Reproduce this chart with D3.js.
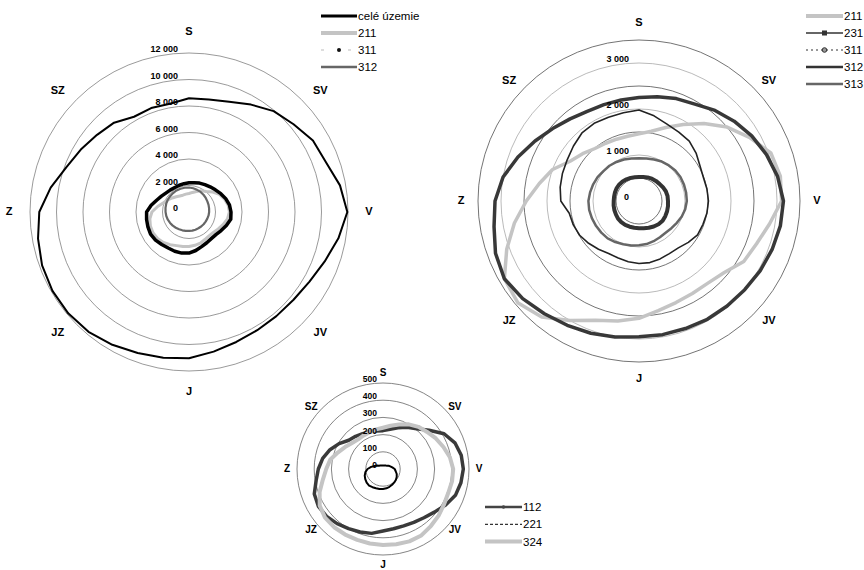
<!DOCTYPE html>
<html>
<head>
<meta charset="utf-8">
<script src="https://cdn.jsdelivr.net/npm/d3@7"></script>
<style>
body { margin: 0; background: #fff; }
text { font-family: "Liberation Sans", Arial, sans-serif; }
</style>
</head>
<body>
<div id="chart"></div>
<script>
//directions in degrees, clockwise from north
const angles = [0,10,20,30,40,50,60,70,80,90,100,110,120,130,140,150,160,170,
                180,190,200,210,220,230,240,250,260,270,280,290,300,310,320,330,340,350];
const dirLabels = ['S','SV','V','JV','J','JZ','Z','SZ'];

//chart A (whole territory)
const ringsA = [2000,4000,6000,8000,10000,12000];
const ticksA = [0,2000,4000,6000,8000,10000,12000];
const celeUzemieA = [8580,8630,8860,9360,9940,10300,10800,11000,11570,11950,11450,10900,10500,10300,10260,10300,10440,10700,
                     11040,11170,11320,11570,11800,11900,11900,11800,11570,11300,10600,9860,9430,9060,8800,8300,8350,8300];
const s211A = [1400,1500,1650,1850,2030,2350,2650,2850,3000,3050,2950,2750,2550,2400,2350,2400,2500,2550,
               2600,2650,2700,2850,3000,3100,3140,3100,3000,2800,2400,2050,1850,1650,1500,1400,1350,1370];
const s311A = [2200,2250,2320,2390,2480,2600,2770,2950,3100,3170,3200,3000,2800,2650,2620,2680,2780,2950,
               3100,3150,3150,3140,3200,3300,3350,3300,3250,3200,2900,2600,2400,2250,2180,2140,2150,2170];
const s312A = [1850,1820,1780,1750,1700,1650,1600,1570,1540,1520,1500,1470,1450,1440,1430,1420,1420,1430,
               1430,1450,1470,1500,1550,1600,1650,1700,1740,1770,1800,1830,1850,1860,1870,1880,1870,1860];

//chart B
const ringsB = [500,1000,1500,2000,2500,3000,3500];
const ticksB = [0,1000,2000,3000];
const s211B = [1460,1540,1700,1920,2200,2500,2770,3050,3120,3100,2880,2720,2630,2420,2330,2320,2350,2420,
               2550,2650,2760,3000,3290,3440,3380,3060,2750,2450,2200,2000,1730,1600,1490,1450,1430,1430];
const s231B = [520,530,545,560,570,580,600,620,630,630,640,650,660,670,660,640,620,600,
               590,590,595,600,600,595,580,570,560,550,550,555,560,560,555,545,535,525];
const s311B = [2250,2300,2370,2430,2570,2700,2830,2950,3060,3140,3120,3080,3040,3000,2980,2970,2950,2950,
               2950,3000,3060,3120,3200,3300,3380,3320,3200,3130,3000,2800,2610,2450,2330,2250,2230,2230];
const s312B = [1980,1880,1780,1730,1700,1620,1530,1490,1500,1510,1500,1480,1470,1400,1330,1320,1340,1360,
               1360,1340,1320,1320,1370,1430,1490,1520,1540,1700,1740,1770,1800,1860,1930,1950,1940,1950];
const s313B = [930,940,960,990,1010,1030,1040,1040,1040,1040,1020,990,950,920,900,910,930,950,
               960,980,1000,1030,1060,1070,1080,1090,1100,1100,1080,1060,1040,1010,1000,980,960,940];

//chart C
const ringsC = [100,200,300,400,500];
const ticksC = [0,100,200,300,400,500];
const s112C = [223,235,255,280,305,350,410,445,462,467,460,448,420,390,370,358,352,353,
               360,380,390,400,415,428,434,425,395,376,356,328,295,260,248,237,230,225];
const s221C = [20,20,22,24,26,30,38,45,55,68,75,85,92,98,102,106,110,114,
               116,118,119,122,126,124,119,113,104,90,70,52,40,30,26,23,21,20];
const s324C = [240,255,275,300,320,335,355,374,395,408,408,404,410,422,433,446,448,444,
               442,440,438,440,442,440,425,392,355,330,312,280,255,235,225,225,228,234];

//number format with space as thousands separator
const fmt = d3.formatLocale({ decimal: ',', thousands: ' ', grouping: [3], currency: ['', ''] }).format(',');

const svg = d3.select('#chart').append('svg')
    .attr('width', 864)
    .attr('height', 570);

function drawPolar(cfg) {
    const g = svg.append('g').attr('transform', `translate(${cfg.cx},${cfg.cy})`);
    const r = d3.scaleLinear().domain([0, cfg.max]).range([0, cfg.radius]);

    //rings
    g.selectAll('.ring')
        .data(cfg.rings)
      .enter().append('circle')
        .attr('r', d => r(d))
        .attr('fill', 'none')
        .attr('stroke', d => cfg.ringColor(d))
        .attr('stroke-width', 0.8);

    //series
    const line = d3.lineRadial()
        .angle((d, i) => angles[i] * Math.PI / 180)
        .radius(d => r(d))
        .curve(d3.curveLinearClosed);

    cfg.series.forEach(function(s) {
        g.append('path')
            .attr('d', line(s.values))
            .attr('fill', 'none')
            .attr('stroke', s.color)
            .attr('stroke-width', s.width)
            .attr('stroke-linejoin', 'round')
            .attr('stroke-dasharray', s.dash || null);
    });

    //tick labels
    g.selectAll('.tick')
        .data(cfg.ticks)
      .enter().append('text')
        .attr('x', -cfg.tickDx)
        .attr('y', d => -r(d) - 1)
        .attr('text-anchor', 'end')
        .style('font-size', cfg.tickFont + 'px')
        .style('font-weight', 'bold')
        .text(d => fmt(d));

    //direction labels
    const R = cfg.radius + cfg.labelGap;
    g.selectAll('.dir')
        .data(dirLabels)
      .enter().append('text')
        .attr('x', (d, i) => {
            const a = i * 45 * Math.PI / 180;
            const x = R * Math.sin(a);
            return i % 2 ? x + Math.sign(x) * 4 : x;
        })
        .attr('y', (d, i) => {
            const a = i * 45 * Math.PI / 180;
            const y = -R * Math.cos(a);
            return (i % 2 ? y - Math.sign(y) * 6 : y) - 1;
        })
        .attr('text-anchor', 'middle')
        .attr('dominant-baseline', 'central')
        .style('font-size', cfg.dirFont + 'px')
        .style('font-weight', 'bold')
        .text(d => d);
}

function drawLegend(lg) {
    const g = svg.append('g');
    lg.items.forEach(function(it, i) {
        const y = lg.y + i * lg.dy;
        g.append('line')
            .attr('x1', lg.x1).attr('x2', lg.x2)
            .attr('y1', y).attr('y2', y)
            .attr('stroke', it.color)
            .attr('stroke-width', it.width)
            .attr('stroke-dasharray', it.dash || null);
        const mx = (lg.x1 + lg.x2) / 2;
        if (it.marker === 'dot') {
            g.append('circle').attr('cx', mx).attr('cy', y).attr('r', 2).attr('fill', '#111');
        } else if (it.marker === 'square') {
            g.append('rect').attr('x', mx - 2.5).attr('y', y - 2.5).attr('width', 5).attr('height', 5).attr('fill', '#333');
        } else if (it.marker === 'ring') {
            g.append('circle').attr('cx', mx).attr('cy', y).attr('r', 2.3)
                .attr('fill', '#999').attr('stroke', '#333').attr('stroke-width', 1);
        } else if (it.marker === 'small') {
            g.append('circle').attr('cx', mx).attr('cy', y).attr('r', 1.8).attr('fill', '#444');
        }
        g.append('text')
            .attr('x', lg.x2 + 1)
            .attr('y', y)
            .attr('dominant-baseline', 'central')
            .style('font-size', '11.5px')
            .text(it.name);
    });
}

//chart A
drawPolar({
    cx: 189, cy: 212, radius: 159, max: 12000,
    rings: ringsA, ringColor: () => '#808080',
    ticks: ticksA, tickDx: 11, tickFont: 9,
    labelGap: 21, dirFont: 11,
    series: [
        { values: celeUzemieA, color: '#000', width: 2 },
        { values: s211A, color: '#c4c4c4', width: 3 },
        { values: s311A, color: '#000', width: 3.5 },
        { values: s312A, color: '#666', width: 2.2 }
    ]
});
drawLegend({
    x1: 321, x2: 357, y: 16, dy: 17,
    items: [
        { name: 'celé územie', color: '#000', width: 3 },
        { name: '211', color: '#c4c4c4', width: 4 },
        { name: '311', color: '#bbb', width: 1, dash: '3,24', marker: 'dot' },
        { name: '312', color: '#666', width: 2.5 }
    ]
});

//chart B
drawPolar({
    cx: 639, cy: 201, radius: 161, max: 3500,
    rings: ringsB, ringColor: d => d % 1000 === 0 ? '#a8a8a8' : '#505050',
    ticks: ticksB, tickDx: 10, tickFont: 9,
    labelGap: 17, dirFont: 11,
    series: [
        { values: s211B, color: '#c4c4c4', width: 3.5 },
        { values: s231B, color: '#333', width: 4 },
        { values: s311B, color: '#383838', width: 3.5 },
        { values: s312B, color: '#222', width: 1.6 },
        { values: s313B, color: '#666', width: 2.5 }
    ]
});
drawLegend({
    x1: 806, x2: 843, y: 16, dy: 17,
    items: [
        { name: '211', color: '#c4c4c4', width: 4 },
        { name: '231', color: '#333', width: 1.5, marker: 'square' },
        { name: '311', color: '#333', width: 1.2, dash: '2,3', marker: 'ring' },
        { name: '312', color: '#333', width: 2.5 },
        { name: '313', color: '#666', width: 2.5 }
    ]
});

//chart C
drawPolar({
    cx: 383, cy: 469, radius: 86, max: 500,
    rings: ringsC, ringColor: () => '#666',
    ticks: ticksC, tickDx: 6, tickFont: 8.5,
    labelGap: 10, dirFont: 10,
    series: [
        { values: s112C, color: '#3a3a3a', width: 3.5 },
        { values: s221C, color: '#000', width: 2 },
        { values: s324C, color: '#c4c4c4', width: 4 }
    ]
});
drawLegend({
    x1: 485, x2: 522, y: 507, dy: 17.3,
    items: [
        { name: '112', color: '#444', width: 2.5, marker: 'small' },
        { name: '221', color: '#000', width: 1, dash: '3,2' },
        { name: '324', color: '#c4c4c4', width: 4 }
    ]
});
</script>
</body>
</html>
